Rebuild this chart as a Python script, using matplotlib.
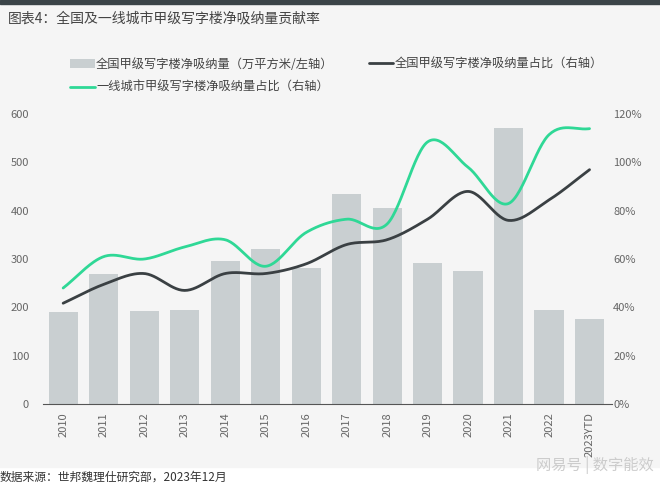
import numpy as np
import matplotlib.pyplot as plt
from matplotlib.patches import Rectangle

plt.rcParams['font.family'] = ['Noto Sans CJK SC', 'DejaVu Sans']

years = ["2010", "2011", "2012", "2013", "2014", "2015", "2016", "2017",
         "2018", "2019", "2020", "2021", "2022", "2023YTD"]
absorb = [190, 268, 193, 195, 296, 320, 281, 434, 405, 292, 276, 571, 195, 175]
share_all = [41.7, 49.5, 54, 47, 54, 54, 58, 66, 68, 76.5, 88, 76, 84.5, 97]
share_tier1 = [48, 61, 60, 65, 68, 57, 71, 76.5, 74.5, 108.5, 98, 83, 111.5, 114]


def smooth(x, y, n=30):
    # catmull-rom curve through the points, like excel's smoothed line
    x = np.asarray(x, float)
    y = np.asarray(y, float)
    px = np.concatenate([[2 * x[0] - x[1]], x, [2 * x[-1] - x[-2]]])
    py = np.concatenate([[2 * y[0] - y[1]], y, [2 * y[-1] - y[-2]]])
    xs, ys = [], []
    t = np.linspace(0, 1, n)
    for i in range(1, len(px) - 2):
        for p, out in ((px, xs), (py, ys)):
            p0, p1, p2, p3 = p[i - 1], p[i], p[i + 1], p[i + 2]
            out.extend(0.5 * ((2 * p1) + (-p0 + p2) * t
                              + (2 * p0 - 5 * p1 + 4 * p2 - p3) * t ** 2
                              + (-p0 + 3 * p1 - 3 * p2 + p3) * t ** 3))
    return np.array(xs), np.array(ys)


fig = plt.figure(figsize=(6.6, 4.92), dpi=100, facecolor="white")
fig.patches.append(Rectangle((0, 25 / 492), 1, 1 - 25 / 492 - 4 / 492,
                             transform=fig.transFigure, color="#f5f5f5", zorder=-10))
fig.patches.append(Rectangle((0, 1 - 4 / 492), 1, 4 / 492,
                             transform=fig.transFigure, color="#3b4448", zorder=-10))

ax = fig.add_axes([0.065, 0.179, 0.862, 0.589])
ax.set_facecolor("none")
x = np.arange(len(years))
bars = ax.bar(x, absorb, width=0.72, color="#c9cfd1", zorder=1)
ax.set_ylim(0, 600)
ax.set_yticks(range(0, 601, 100))
ax.set_xlim(-0.5, 13.55)
ax.set_xticks(x)
ax.set_xticklabels(years, rotation=90)
for s in ["top", "right", "left"]:
    ax.spines[s].set_visible(False)
ax.spines["bottom"].set_color("#555555")
ax.tick_params(axis="both", length=0, colors="#666666", labelsize=8)
ax.tick_params(axis="x", pad=6)
ax.tick_params(axis="y", pad=10)

ax2 = ax.twinx()
ax2.set_ylim(0, 120)
ax2.set_yticks(range(0, 121, 20))
ax2.set_yticklabels([f"{v}%" for v in range(0, 121, 20)])
for s in ["top", "right", "left", "bottom"]:
    ax2.spines[s].set_visible(False)
ax2.tick_params(axis="y", length=0, colors="#666666", labelsize=8, pad=1)

sx, sy = smooth(x, share_all)
l1, = ax2.plot(sx, sy, color="#3a4043", lw=2.0, solid_capstyle="round")
gx, gy = smooth(x, share_tier1)
l2, = ax2.plot(gx, gy, color="#2fd896", lw=2.0, solid_capstyle="round")

fig.legend([bars, l2, l1],
           ["全国甲级写字楼净吸纳量（万平方米/左轴）", "一线城市甲级写字楼净吸纳量占比（右轴）",
            "全国甲级写字楼净吸纳量占比（右轴）"],
           ncol=2, loc="upper left", bbox_to_anchor=(0.09, 0.905), frameon=False,
           fontsize=8.8, labelcolor="#444444", handlelength=2.0, handletextpad=0.1,
           columnspacing=2.9, labelspacing=0.85)

fig.text(0.012, 0.963, "图表4：全国及一线城市甲级写字楼净吸纳量贡献率", fontsize=10,
         color="#444444", va="center")
fig.text(0.0, 0.03, "数据来源：世邦魏理仕研究部，2023年12月", fontsize=8.5,
         color="#333333", va="center")
fig.text(0.99, 0.055, "网易号 | 数字能效", fontsize=11, color="#cccccc",
         va="center", ha="right")

fig.savefig("out.png", dpi=100, facecolor=fig.get_facecolor())
